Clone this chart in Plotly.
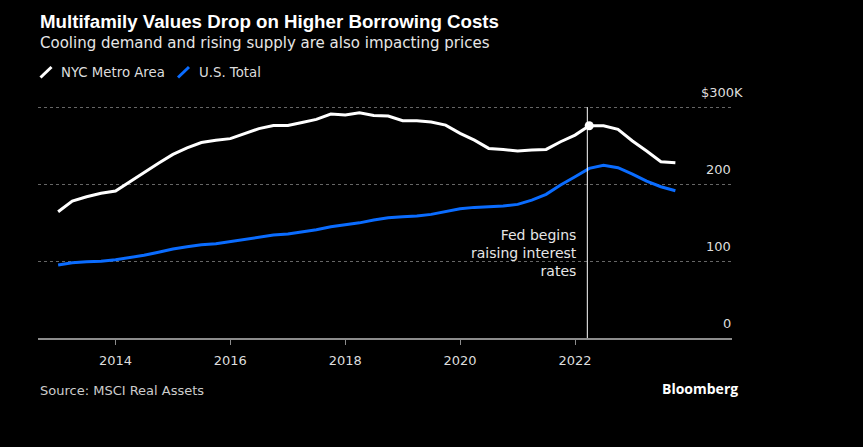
import plotly.graph_objects as go
import pandas as pd

# ---- data ----
dates = pd.date_range("2013-01-01", periods=44, freq="QS").strftime("%Y-%m-%d").tolist()
nyc_values = [164, 178, 183.5, 188, 191, 203, 215, 227, 238.5, 247, 254, 257,
              259, 266, 272, 276, 276, 280, 284, 291, 289.6, 292.6, 289.2, 288.3,
              282.2, 282.2, 280.5, 276.6, 265.8, 257, 246.3, 245, 242.9, 244.2, 245, 255,
              263.6, 275.7, 275.7, 271, 256, 243, 229, 227.7]
us_values = [94.8, 97.8, 99, 99.6, 101.7, 104.3, 107.4, 111.3, 115.6, 118.6, 121.2, 122.5,
             125.5, 128.6, 131.6, 133.8, 135, 137.7, 140.6, 144.6, 146.8, 149.6, 153.2, 156.2,
             157.5, 158.4, 160.6, 164, 167.9, 169.7, 170.6, 171.4, 173.6, 179.2, 186.6, 198.7,
             209.5, 220.4, 224.3, 221.2, 213, 203.9, 196.5, 191.3]
series_names = ["NYC Metro Area", "U.S. Total"]
y_tick_vals = [0, 100, 200, 300]
y_tick_text = ["0", "100", "200", "$300K"]
x_tick_vals = ["2014-01-01", "2016-01-01", "2018-01-01", "2020-01-01", "2022-01-01"]
x_tick_text = ["2014", "2016", "2018", "2020", "2022"]
fed_date = "2022-03-20"
marker_index = 37

W, H = 863, 447
L, R, T, B = 38, 131, 84, 109
PW, PH = W - L - R, H - T - B

def paper(xpx, ypx):
    return (xpx - L) / PW, (H - B - ypx) / PH

WHITE = "#ffffff"
BLUE = "#0a6cff"
FONT = "DejaVu Sans"

fig = go.Figure()
fig.add_trace(go.Scatter(x=dates, y=nyc_values, mode="lines", name=series_names[0],
                         line=dict(color=WHITE, width=3), showlegend=False, hoverinfo="skip"))
fig.add_trace(go.Scatter(x=dates, y=us_values, mode="lines", name=series_names[1],
                         line=dict(color=BLUE, width=3), showlegend=False, hoverinfo="skip"))
fig.add_trace(go.Scatter(x=[dates[marker_index]], y=[nyc_values[marker_index]], mode="markers",
                         marker=dict(color=WHITE, size=9), showlegend=False, hoverinfo="skip"))

fig.add_shape(type="line", xref="x", yref="y", x0=fed_date, x1=fed_date, y0=0, y1=300,
              line=dict(color=WHITE, width=1), layer="above")

annotations = []
annotations.append(dict(xref="x", yref="y", x=fed_date, y=110, xanchor="right", yanchor="middle",
                        xshift=-8, align="right", showarrow=False,
                        text="Fed begins<br>raising interest<br>rates",
                        font=dict(family=FONT, size=14, color="#e6e6e6")))

# y tick labels (right side, above gridlines)
for v, t in zip(y_tick_vals, y_tick_text):
    right_px = 745 if t.startswith("$") else 733
    xp, _ = paper(right_px, 0)
    annotations.append(dict(xref="paper", yref="y", x=xp, y=v, xanchor="right", yanchor="middle",
                            yshift=15, showarrow=False, text=t,
                            font=dict(family=FONT, size=13, color="#dddddd")))

# title, subtitle
x0, y0 = paper(38, 21)
annotations.append(dict(xref="paper", yref="paper", x=x0, y=y0, xanchor="left", yanchor="middle",
                        showarrow=False, text="<b>Multifamily Values Drop on Higher Borrowing Costs</b>",
                        font=dict(family="Liberation Sans", size=18.7, color=WHITE)))
x0, y0 = paper(38, 43)
annotations.append(dict(xref="paper", yref="paper", x=x0, y=y0, xanchor="left", yanchor="middle",
                        showarrow=False, text="Cooling demand and rising supply are also impacting prices",
                        font=dict(family=FONT, size=15, color="#e6e6e6")))

# legend
legend_items = [(series_names[0], WHITE, 40.5, 59), (series_names[1], BLUE, 178, 196.5)]
for name, col, lx, tx in legend_items:
    ax0, ay0 = paper(lx, 77.5)
    ax1, ay1 = paper(lx + 11, 67)
    fig.add_shape(type="line", xref="paper", yref="paper", x0=ax0, y0=ay0, x1=ax1, y1=ay1,
                  line=dict(color=col, width=3))
    px_, py_ = paper(tx, 72.5)
    annotations.append(dict(xref="paper", yref="paper", x=px_, y=py_, xanchor="left", yanchor="middle",
                            showarrow=False, text=name, font=dict(family=FONT, size=13.3, color="#dddddd")))

# footer
x0, y0 = paper(38, 390)
annotations.append(dict(xref="paper", yref="paper", x=x0, y=y0, xanchor="left", yanchor="middle",
                        showarrow=False, text="Source: MSCI Real Assets",
                        font=dict(family=FONT, size=13, color="#cccccc")))
x0, y0 = paper(740, 388)
annotations.append(dict(xref="paper", yref="paper", x=x0, y=y0, xanchor="right", yanchor="middle",
                        showarrow=False, text="<b>Bloomberg</b>",
                        font=dict(family="Open Sans", size=14, color=WHITE)))

fig.update_layout(
    width=W, height=H,
    margin=dict(l=L, r=R, t=T, b=B, pad=0),
    paper_bgcolor="black", plot_bgcolor="black",
    showlegend=False,
    annotations=annotations,
    xaxis=dict(type="date", range=["2012-08-26", "2024-09-25"],
               tickvals=x_tick_vals, ticktext=x_tick_text,
               showgrid=False, zeroline=False,
               showline=True, linecolor="#8c8c8c", linewidth=2,
               ticks="outside", ticklen=5, tickcolor="#8c8c8c", tickwidth=1,
               ticklabelstandoff=4,
               tickfont=dict(family=FONT, size=13, color="#dddddd")),
    yaxis=dict(range=[0, 330], side="right", tickvals=y_tick_vals,
               showgrid=True, gridcolor="#666666", griddash="dot", gridwidth=1,
               zeroline=False, showline=False, ticks="", showticklabels=False),
)

fig.write_html("out.html")
